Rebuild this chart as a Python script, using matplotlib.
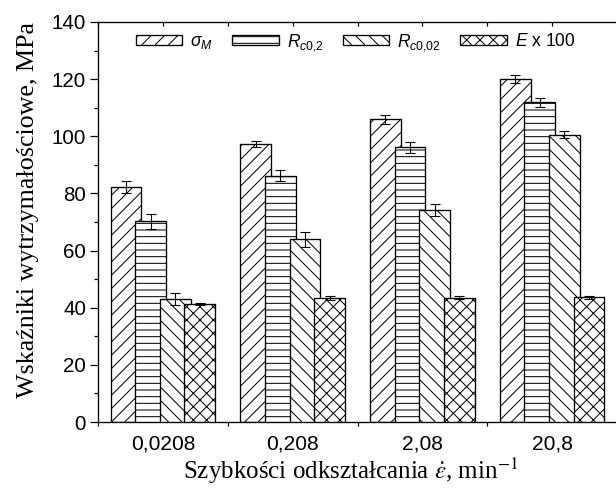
import matplotlib

matplotlib.use("Agg")
import matplotlib.pyplot as plt
import numpy as np

# strain rates (min^-1) and measured strength indices (MPa)
rates = ["0,0208", "0,208", "2,08", "20,8"]
sigma_m = [82.3, 97.3, 105.9, 119.9]
sigma_m_err = [2.2, 0.9, 1.5, 1.4]
rc02 = [70.2, 86.2, 96.1, 111.9]
rc02_err = [2.5, 2.0, 1.8, 1.6]
rc002 = [42.9, 63.9, 74.2, 100.6]
rc002_err = [2.1, 2.5, 2.2, 1.3]
e100 = [41.3, 43.4, 43.5, 43.6]
e100_err = [0.5, 0.6, 0.5, 0.5]

DPI = 80
PT = 72 / DPI  # px -> pt


def px(v):
    return v * PT


plt.rcParams["font.family"] = ["Liberation Sans", "DejaVu Sans"]
plt.rcParams["mathtext.fontset"] = "custom"
plt.rcParams["mathtext.it"] = "Liberation Sans:italic"
plt.rcParams["mathtext.rm"] = "Liberation Sans"
plt.rcParams["hatch.linewidth"] = 0.9

fig = plt.figure(figsize=(616 / DPI, 500 / DPI), dpi=DPI)
ax = fig.add_axes([98 / 616, 78 / 500, 519 / 616, 400 / 500])

x = np.arange(len(rates))
w = 0.237
step = 0.19
series = [
    (sigma_m, sigma_m_err, "//", r"$\sigma_M$"),
    (rc02, rc02_err, "--", r"$\mathit{R}_{\mathit{c0{,}2}}$"),
    (rc002, rc002_err, "\\\\", r"$\mathit{R}_{\mathit{c0{,}02}}$"),
    (e100, e100_err, "xx", r"$E$ x 100"),
]
for i, (vals, err, hatch, lab) in enumerate(series):
    ax.bar(x + (i - 1.5) * step, vals, w, yerr=err, color="white",
           edgecolor="black", linewidth=1.2, hatch=hatch, label=lab,
           capsize=px(5), error_kw=dict(elinewidth=1.0, capthick=1.0),
           zorder=2 + i)

ax.set_xlim(-0.5, 3.5)
ax.set_ylim(0, 140)
ax.spines["right"].set_visible(False)
for s in ["left", "bottom", "top"]:
    ax.spines[s].set_linewidth(1.2)

ax.set_yticks(np.arange(0, 141, 20))
ax.set_yticks(np.arange(10, 140, 20), minor=True)
ax.tick_params(axis="y", which="major", direction="out", length=px(8),
               width=1.1, labelsize=px(20.5), pad=px(4))
ax.tick_params(axis="y", which="minor", direction="out", length=px(4), width=1.1)

ax.set_xticks(x, rates)
ax.set_xticks(np.arange(-0.5, 3.6, 1.0), minor=True)
ax.tick_params(axis="x", which="major", length=0, labelsize=px(21), pad=px(13))
ax.tick_params(axis="x", which="minor", direction="out", length=px(4), width=1.1)

top = ax.secondary_xaxis("top")
top.set_xticks(np.arange(-0.5, 3.6, 0.5))
top.tick_params(direction="in", length=px(4), width=1.1, labeltop=False)

ax.set_ylabel("Wskaźniki wytrzymałościowe, MPa", family="Liberation Serif",
              fontsize=px(26))
ax.yaxis.set_label_coords(-0.113, 0.53)
ax.set_xlabel(r"Szybkości odkształcania $\dot{\varepsilon}$, min$^{-1}$",
              family="Liberation Serif", math_fontfamily="stix",
              fontsize=px(25), labelpad=px(4))
ax.xaxis.set_label_coords(0.487, -0.085)

ax.legend(loc="upper left", bbox_to_anchor=(136 / 616, 1 - 32 / 500),
          bbox_transform=fig.transFigure, ncol=4, frameon=False,
          fontsize=px(17.5), handlelength=2.65, handleheight=0.5,
          handletextpad=0.45, columnspacing=1.1, borderpad=0, borderaxespad=0)

fig.savefig("out.png", dpi=DPI)
